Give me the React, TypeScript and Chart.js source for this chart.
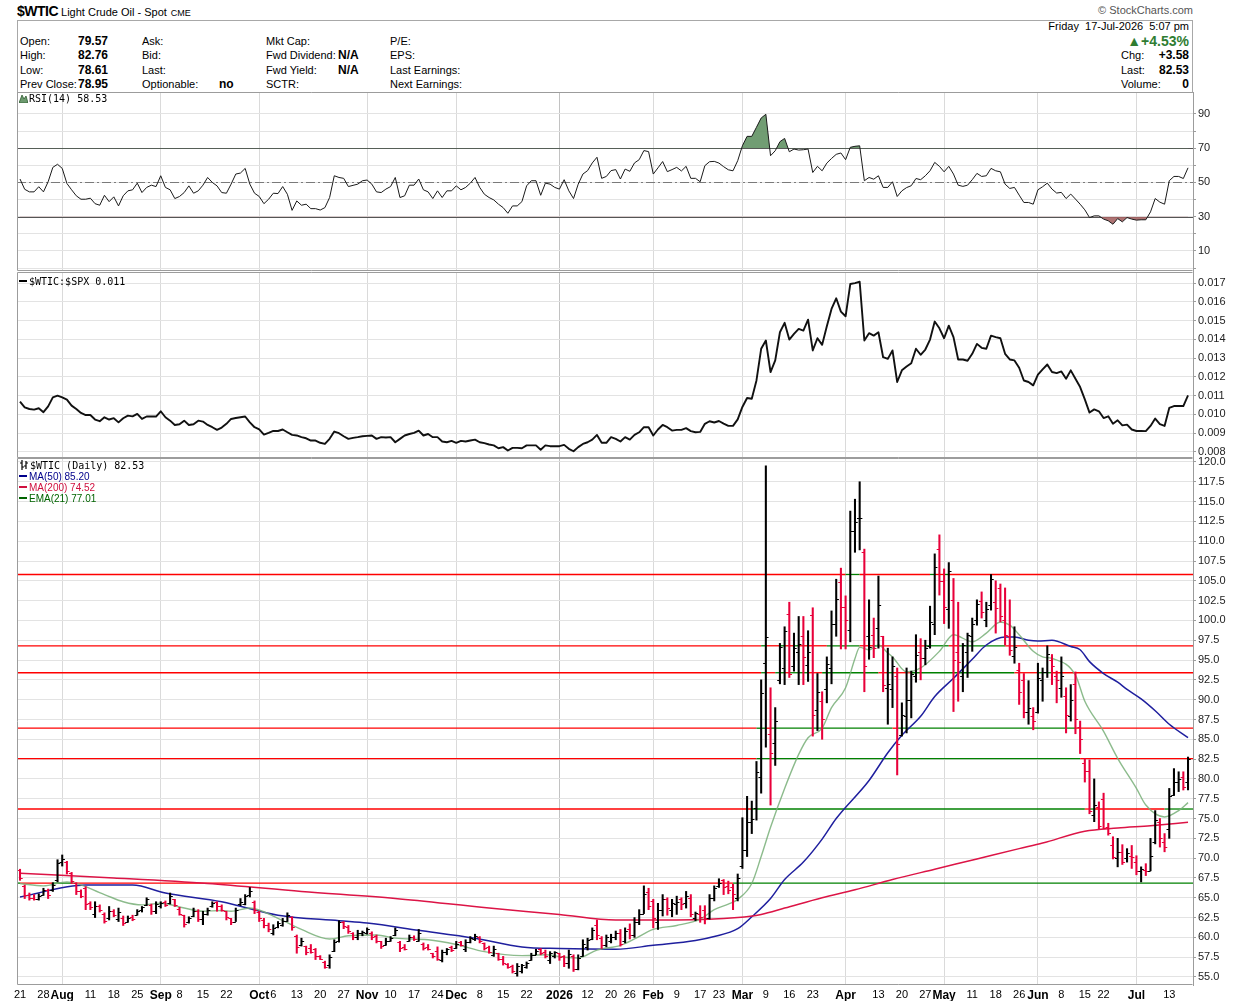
import React, { useEffect, useRef } from "react";
import { Chart, registerables } from "chart.js";

Chart.register(...registerables);

const SANS = '"Liberation Sans", Arial, Helvetica, sans-serif';
const MONO = '"DejaVu Sans Mono", monospace';
Chart.defaults.font.family = SANS;

// ---------- calendar ----------
const START = "2025-07-21";
const END = "2026-07-17";
const HOLIDAYS = [
  "2025-09-01", "2025-11-27", "2025-12-25", "2026-01-01", "2026-01-19",
  "2026-02-16", "2026-04-03", "2026-05-25", "2026-06-19", "2026-07-03",
];
const TICK_DATES = [
  "2025-07-21", "2025-07-28", "2025-08-01", "2025-08-11", "2025-08-18", "2025-08-25",
  "2025-09-02", "2025-09-08", "2025-09-15", "2025-09-22", "2025-10-01", "2025-10-06",
  "2025-10-13", "2025-10-20", "2025-10-27", "2025-11-03", "2025-11-10", "2025-11-17",
  "2025-11-24", "2025-12-01", "2025-12-08", "2025-12-15", "2025-12-22", "2026-01-02",
  "2026-01-12", "2026-01-20", "2026-01-26", "2026-02-02", "2026-02-09", "2026-02-17",
  "2026-02-23", "2026-03-02", "2026-03-09", "2026-03-16", "2026-03-23", "2026-04-01",
  "2026-04-13", "2026-04-20", "2026-04-27", "2026-05-01", "2026-05-11", "2026-05-18",
  "2026-05-26", "2026-06-01", "2026-06-08", "2026-06-15", "2026-06-22", "2026-07-01",
  "2026-07-13",
];
const MONTHS = ["Jan", "Feb", "Mar", "Apr", "May", "Jun", "Jul", "Aug", "Sep", "Oct", "Nov", "Dec"];

// ---------- price (OHLC) ----------
const OPEN = [
  68.5, 66.5, 65.4, 65.0, 64.8, 65.4, 66.0, 66.0, 67.2, 69.5,
  69.5, 68.1, 66.8, 65.8, 66.2, 64.3, 63.0, 64.0, 63.0, 62.4,
  63.3, 62.3, 62.5, 62.0, 62.6, 62.8, 63.4, 64.1, 64.1, 63.3,
  63.9, 64.5, 64.3, 64.8, 63.6, 62.8, 61.9, 62.7, 63.3, 62.3,
  62.9, 63.9, 64.5, 63.9, 63.3, 62.4, 62.0, 64.2, 64.2, 65.3,
  64.5, 63.2, 62.2, 61.6, 60.6, 61.3, 61.6, 62.1, 62.6, 60.2,
  59.0, 58.9, 58.6, 58.5, 57.6, 56.9, 56.5, 58.3, 59.5, 61.9,
  61.3, 60.6, 60.0, 60.5, 60.6, 60.6, 60.2, 59.5, 59.1, 59.6,
  60.3, 59.4, 58.8, 59.5, 60.1, 59.6, 59.2, 58.8, 58.0, 58.3,
  57.2, 58.1, 58.8, 58.6, 59.4, 58.5, 59.4, 59.8, 60.1, 59.3,
  58.8, 57.8, 58.0, 57.3, 56.7, 56.4, 55.5, 55.8, 56.3, 57.2,
  57.8, 58.5, 58.2, 57.2, 57.7, 58.0, 57.6, 56.8, 57.6, 56.0,
  57.6, 58.8, 59.8, 61.6, 59.9, 59.0, 59.6, 60.0, 60.5, 59.5,
  61.0, 60.3, 62.0, 63.0, 65.7, 64.6, 62.0, 63.5, 64.8, 63.4,
  64.2, 64.8, 64.3, 65.0, 62.5, 63.0, 63.5, 62.5, 65.0, 66.5,
  67.2, 66.5, 66.3, 65.0, 69.0, 71.0, 74.5, 76.3, 80.3, 94.6,
  85.7, 84.5, 92.5, 94.0, 100.8, 94.2, 96.0, 98.0, 94.4, 100.7,
  88.7, 89.8, 91.4, 94.0, 99.5, 104.9, 101.7, 98.8, 111.3, 112.9,
  108.6, 98.0, 98.2, 99.1, 98.0, 91.5, 91.3, 93.0, 85.6, 88.0,
  89.9, 93.0, 96.0, 95.2, 96.8, 99.5, 109.0, 105.0, 101.5, 102.6,
  96.0, 93.0, 96.0, 98.0, 100.0, 102.5, 100.0, 102.0, 102.3, 104.1,
  100.0, 98.0, 95.5, 93.8, 92.5, 88.5, 88.0, 88.5, 92.5, 93.5,
  95.0, 93.0, 91.5, 90.5, 88.0, 92.0, 86.5, 82.0, 81.0, 75.5,
  76.5, 77.5, 73.9, 71.6, 70.0, 70.8, 70.0, 70.3, 69.5, 68.4,
  68.5, 68.4, 72.0, 74.5, 72.0, 73.7, 78.0, 79.6, 80.2, 79.57,
];
const HIGH = [
  68.6, 66.6, 65.6, 65.4, 65.5, 66.2, 66.1, 66.9, 69.8, 70.4,
  69.6, 68.2, 66.9, 66.0, 66.4, 64.5, 64.5, 64.1, 63.1, 63.9,
  63.5, 63.7, 62.7, 62.7, 62.8, 63.5, 63.9, 65.0, 64.2, 64.5,
  64.5, 64.6, 65.6, 64.8, 63.8, 62.8, 62.6, 63.7, 63.5, 63.3,
  63.7, 64.5, 64.5, 64.1, 63.3, 62.4, 63.7, 64.9, 65.4, 66.3,
  64.6, 63.3, 62.4, 61.8, 61.6, 62.0, 62.4, 63.1, 62.6, 60.3,
  59.9, 58.9, 59.1, 58.6, 57.7, 57.0, 57.8, 59.7, 62.1, 62.0,
  61.5, 60.6, 60.9, 60.8, 61.2, 60.7, 60.3, 59.5, 59.9, 60.1,
  61.2, 59.5, 59.1, 60.3, 60.2, 61.0, 59.3, 59.1, 58.0, 58.8,
  58.4, 58.6, 58.9, 59.5, 59.5, 59.7, 60.1, 60.4, 60.1, 59.3,
  58.9, 58.9, 58.0, 57.6, 56.7, 56.5, 56.7, 56.6, 56.9, 58.0,
  58.5, 58.6, 58.4, 58.2, 58.2, 58.0, 57.7, 58.4, 57.8, 57.8,
  59.7, 59.9, 61.2, 62.2, 60.1, 60.3, 60.4, 60.8, 61.0, 61.2,
  61.7, 62.5, 63.5, 66.5, 66.2, 64.8, 64.3, 65.4, 65.0, 64.8,
  65.2, 65.0, 65.8, 65.4, 63.2, 64.0, 64.0, 65.4, 66.5, 67.4,
  67.3, 67.1, 66.7, 68.0, 75.1, 77.8, 77.2, 82.2, 92.5, 119.5,
  91.5, 89.0, 97.1, 99.2, 102.3, 98.4, 100.5, 100.5, 98.7, 101.6,
  93.3, 91.0, 95.4, 101.2, 105.2, 106.6, 103.1, 113.8, 115.3, 117.5,
  109.0, 102.6, 100.3, 105.6, 98.0, 96.5, 95.4, 94.0, 89.6, 94.0,
  93.6, 98.2, 97.7, 97.5, 101.8, 108.4, 110.8, 106.5, 107.3, 105.3,
  102.3, 97.1, 98.4, 100.3, 102.6, 103.6, 102.3, 105.8, 105.0, 104.6,
  104.1, 102.6, 99.2, 94.6, 93.3, 92.4, 89.0, 94.6, 94.0, 96.8,
  95.7, 93.6, 95.4, 91.5, 91.9, 93.5, 87.3, 82.6, 82.4, 80.0,
  77.1, 78.2, 74.4, 72.7, 72.5, 71.7, 71.2, 71.6, 70.3, 68.9,
  69.3, 72.5, 76.0, 75.0, 73.1, 78.8, 81.3, 80.9, 80.9, 82.76,
];
const LOW = [
  67.2, 64.9, 64.7, 64.7, 64.7, 65.3, 64.9, 65.8, 67.0, 69.0,
  68.0, 66.8, 65.4, 65.0, 63.5, 63.5, 62.5, 63.2, 61.8, 62.2,
  62.6, 62.0, 61.5, 61.9, 62.1, 62.8, 63.2, 64.0, 62.9, 63.0,
  63.7, 63.9, 64.2, 63.9, 62.8, 61.3, 61.8, 62.6, 62.0, 61.6,
  62.8, 63.8, 63.3, 63.3, 62.2, 61.6, 62.0, 64.0, 64.1, 65.1,
  63.0, 62.0, 61.2, 60.7, 60.3, 61.2, 61.4, 62.0, 60.9, 58.0,
  58.9, 57.8, 58.0, 57.2, 57.2, 56.1, 56.1, 58.2, 59.4, 61.1,
  60.5, 59.7, 59.7, 60.2, 60.4, 59.7, 59.3, 58.6, 59.0, 59.5,
  60.2, 58.2, 58.4, 59.5, 59.6, 59.5, 58.4, 58.4, 57.4, 57.1,
  56.9, 57.8, 58.2, 58.6, 58.9, 58.2, 59.3, 59.6, 59.3, 58.4,
  58.0, 57.6, 57.1, 56.5, 56.1, 55.5, 55.1, 55.5, 56.1, 57.1,
  57.8, 57.8, 57.4, 56.7, 57.4, 57.1, 56.3, 56.1, 55.7, 55.9,
  57.6, 58.4, 59.7, 59.7, 58.6, 58.8, 59.3, 59.7, 58.9, 59.3,
  59.8, 60.0, 61.6, 63.0, 63.5, 61.2, 61.0, 62.7, 62.8, 62.6,
  62.9, 63.5, 63.7, 62.6, 62.1, 61.9, 61.7, 62.3, 64.6, 66.3,
  65.4, 65.5, 63.5, 64.6, 68.7, 70.2, 73.1, 74.8, 78.2, 84.0,
  76.7, 81.7, 92.0, 91.9, 92.8, 93.6, 91.9, 91.9, 92.3, 85.4,
  86.1, 85.0, 89.6, 92.0, 98.0, 96.4, 96.4, 97.3, 108.6, 108.9,
  91.0, 95.1, 95.3, 96.5, 91.0, 86.9, 89.0, 80.5, 85.4, 85.8,
  87.7, 92.2, 92.5, 94.4, 96.5, 98.2, 103.2, 99.6, 99.0, 88.5,
  89.8, 91.0, 92.8, 96.1, 99.4, 100.3, 99.2, 101.3, 98.4, 99.8,
  96.9, 95.6, 94.6, 89.4, 87.7, 86.9, 86.2, 88.3, 89.8, 92.8,
  91.9, 89.6, 90.3, 85.8, 87.3, 85.7, 83.2, 79.6, 75.6, 74.6,
  73.7, 73.7, 72.9, 69.9, 68.9, 69.2, 69.5, 68.7, 67.9, 67.0,
  67.8, 68.4, 71.8, 71.4, 70.8, 72.5, 77.9, 78.4, 78.6, 78.61,
];
const CLOSE = [
  67.5, 65.3, 65.0, 64.8, 65.2, 66.0, 65.4, 66.6, 69.4, 69.9,
  68.4, 67.1, 65.8, 65.2, 64.2, 63.8, 64.0, 63.5, 62.1, 63.3,
  62.8, 63.2, 61.8, 62.5, 62.3, 63.3, 63.8, 64.8, 63.3, 64.2,
  64.4, 64.1, 65.2, 64.1, 63.0, 61.7, 62.4, 63.3, 62.3, 62.9,
  63.4, 64.3, 63.9, 63.5, 62.6, 61.9, 63.4, 64.5, 65.2, 65.9,
  63.4, 62.4, 61.6, 61.0, 61.2, 61.8, 62.1, 62.8, 61.3, 58.8,
  59.5, 58.2, 58.1, 57.6, 57.3, 56.3, 57.5, 59.4, 61.9, 61.4,
  60.8, 60.0, 60.6, 60.7, 61.0, 60.1, 59.6, 58.9, 59.6, 59.9,
  60.9, 58.6, 58.5, 60.0, 59.8, 60.6, 58.7, 58.5, 57.6, 57.3,
  58.2, 58.5, 58.4, 59.2, 59.0, 59.4, 59.9, 60.2, 59.5, 58.7,
  58.2, 58.5, 57.3, 56.8, 56.3, 55.8, 56.4, 56.5, 56.8, 57.8,
  58.3, 58.0, 57.7, 58.0, 58.1, 57.5, 56.8, 57.9, 56.0, 57.4,
  59.2, 59.7, 60.9, 60.3, 59.0, 60.0, 60.1, 60.6, 59.2, 60.8,
  60.3, 62.0, 63.0, 65.5, 64.0, 62.5, 63.5, 64.8, 63.7, 64.3,
  64.5, 64.2, 65.2, 63.0, 63.1, 62.6, 62.4, 65.0, 66.2, 66.8,
  66.3, 66.0, 65.5, 67.5, 71.0, 74.5, 74.9, 80.9, 90.8, 97.9,
  83.3, 87.3, 96.6, 98.7, 93.3, 96.5, 97.0, 95.4, 96.0, 88.1,
  91.0, 87.5, 94.5, 99.5, 102.7, 101.7, 100.0, 111.3, 112.4, 112.9,
  94.3, 96.7, 96.5, 101.9, 91.9, 92.0, 94.2, 84.4, 88.1, 89.9,
  93.3, 95.6, 95.2, 96.5, 99.8, 106.7, 105.0, 101.7, 106.3, 95.0,
  94.8, 96.9, 98.2, 99.5, 102.1, 101.1, 101.5, 105.2, 101.6, 100.5,
  98.2, 96.3, 96.6, 91.0, 88.5, 89.0, 87.3, 92.7, 93.5, 95.8,
  94.2, 92.5, 93.0, 88.1, 90.0, 87.5, 85.0, 81.0, 76.0, 76.7,
  74.0, 73.8, 73.2, 70.2, 70.8, 69.5, 70.7, 70.1, 68.4, 68.6,
  68.4, 70.3, 74.8, 72.5, 71.4, 77.9, 79.6, 80.0, 78.95, 82.53,
];

// ---------- indicators ----------
const RSI = [
  52, 46, 44.5, 44.5, 47.5, 44.5, 50.4, 58.8, 60.6, 58.2,
  49.4, 45.7, 42.2, 40.2, 40.2, 40.8, 37.6, 36.7, 42.5, 38.8,
  41.6, 36.3, 42.2, 45.1, 45.7, 49.6, 44.1, 47.1, 48.4, 47.6,
  53.9, 47.1, 45.7, 40.6, 41.8, 44.1, 48, 43.7, 45.1, 48.4,
  52.9, 50, 48, 44.1, 43.7, 49, 54.9, 55.5, 58.2, 49,
  43.7, 41.8, 37.6, 40.2, 43.7, 43.5, 47.6, 43.1, 33.7, 39.2,
  36.7, 37.3, 34.7, 34.7, 33.9, 35.3, 41.2, 53.9, 52.9, 52.4,
  47.6, 48.3, 49, 51, 51.4, 49, 44.5, 44.1, 46.1, 47.6,
  52.9, 41.2, 42.2, 48.4, 48.4, 52, 45.7, 44.5, 40.6, 45.1,
  41.2, 45.1, 45.1, 48, 45.7, 47.1, 49.6, 52.9, 47.1, 43.1,
  41.2, 39.8, 37.3, 35.3, 32, 36.3, 36.3, 38.8, 48, 51,
  51, 42.5, 49.6, 49, 47.1, 46.1, 51.6, 45.1, 40.6, 49,
  54.9, 56.9, 61.4, 64.7, 52.4, 53.5, 56.9, 57.5, 52, 57.8,
  56.5, 61.4, 63.3, 68.6, 68, 54.9, 58.5, 62.2, 56.3, 57.5,
  58.8, 56.7, 59.4, 52.4, 52.4, 50.4, 59.8, 62.1, 62.3, 61.3,
  59.2, 57.4, 56.8, 62.7, 71.4, 76.9, 76.9, 82.2, 87.6, 89.8,
  65.6, 68.5, 73.8, 75.7, 67.9, 69.5, 68.9, 69.1, 69.5, 55.8,
  59.4, 56.8, 61.3, 64, 66.4, 67.2, 63.3, 70.5, 71.1, 71.4,
  51, 52.9, 51.9, 53.9, 47.1, 47.1, 50.4, 41.8, 45.1, 47,
  48.1, 52.3, 51.6, 53.9, 56.8, 61.7, 59.4, 56.2, 59.4, 54.9,
  48.4, 47.7, 48.4, 51.6, 55.3, 53.5, 53.9, 58.2, 56.8, 56.2,
  49, 46.5, 47.1, 42.6, 38.3, 38.3, 37.3, 45.7, 47.5, 49.6,
  46.1, 43.8, 44.2, 40.6, 43.2, 40.3, 37.3, 34, 29.5, 30.5,
  30.5, 28.6, 27.6, 25.6, 28.9, 27, 29.5, 28.6, 28, 28.2,
  28.2, 32.8, 40.6, 38.5, 37.3, 51, 53.5, 53.5, 52.3, 58.53,
];
const RATIO = [
  0.01068, 0.01038, 0.01029, 0.01026, 0.01033, 0.01012, 0.01043, 0.01091, 0.0110, 0.01091,
  0.01079, 0.01047, 0.01029, 0.01008, 0.00997, 0.00997, 0.00973, 0.00964, 0.00985, 0.00973,
  0.0098, 0.00958, 0.0098, 0.00994, 0.0099, 0.01003, 0.00976, 0.00989, 0.00989, 0.00989,
  0.01017, 0.00985, 0.00967, 0.00944, 0.00948, 0.00967, 0.00944, 0.00948, 0.00967, 0.00962,
  0.00944, 0.00932, 0.00918, 0.0093, 0.0095, 0.00976, 0.00981, 0.00985, 0.00989, 0.00958,
  0.00932, 0.0092, 0.00893, 0.00902, 0.00912, 0.00912, 0.0092, 0.00905, 0.00891, 0.00888,
  0.00879, 0.00873, 0.00861, 0.00861, 0.00849, 0.00843, 0.0087, 0.00909, 0.009, 0.00884,
  0.0087, 0.00875, 0.00879, 0.00884, 0.00886, 0.00888, 0.0087, 0.00879, 0.00877, 0.00879,
  0.00852, 0.0087, 0.00888, 0.00896, 0.00902, 0.00914, 0.00888, 0.00896, 0.00879, 0.00879,
  0.00856, 0.00852, 0.00859, 0.00849, 0.00859, 0.00856, 0.00861, 0.00866, 0.00852, 0.00847,
  0.0084, 0.00835, 0.0082, 0.00826, 0.00808, 0.00822, 0.00822, 0.0082, 0.00835, 0.00835,
  0.00835, 0.00812, 0.00835, 0.00831, 0.00831, 0.00831, 0.00838, 0.00817, 0.00804, 0.00826,
  0.00843, 0.00852, 0.00866, 0.00891, 0.00849, 0.00849, 0.00879, 0.0087, 0.00856, 0.00879,
  0.00866, 0.00891, 0.00905, 0.00932, 0.00932, 0.00888, 0.0092, 0.00944, 0.00932, 0.00914,
  0.00918, 0.00918, 0.00927, 0.00911, 0.00905, 0.00907, 0.0095, 0.00964, 0.00957, 0.00965,
  0.00951, 0.00939, 0.00939, 0.00974, 0.0104, 0.01088, 0.01084, 0.01181, 0.0135, 0.01394,
  0.01226, 0.01288, 0.01438, 0.01488, 0.01399, 0.01429, 0.01456, 0.01447, 0.01505, 0.01341,
  0.01406, 0.01371, 0.0147, 0.01562, 0.01619, 0.01548, 0.01523, 0.01695, 0.017, 0.01707,
  0.01394, 0.01433, 0.0142, 0.01438, 0.01305, 0.01296, 0.01341, 0.01173, 0.01235, 0.01255,
  0.01273, 0.0135, 0.01318, 0.01346, 0.01399, 0.01495, 0.01459, 0.01406, 0.01473, 0.01412,
  0.01293, 0.01293, 0.01286, 0.01323, 0.01376, 0.01355, 0.0135, 0.0142, 0.01412, 0.01406,
  0.01323, 0.01293, 0.01288, 0.01249, 0.01181, 0.01173, 0.01155, 0.01212, 0.0124, 0.01266,
  0.01226, 0.0122, 0.01229, 0.0119, 0.01235, 0.0119, 0.01146, 0.0108, 0.0101, 0.01027,
  0.01017, 0.00981, 0.0099, 0.00951, 0.00969, 0.00942, 0.00946, 0.0092, 0.00912, 0.00912,
  0.00911, 0.00939, 0.00978, 0.00948, 0.00939, 0.01035, 0.01045, 0.01045, 0.01045, 0.01102,
];
// moving averages read at sample bars: [bar index, value]
const MA50: [number, number][] = [
  [0, 65.1], [14, 66.6], [24, 66.6], [31, 65.6], [43, 64.5], [55, 62.8], [68, 62.1], [74, 61.8],
  [85, 60.9], [97, 59.9], [107, 58.8], [115, 58.6], [127, 58.5], [135, 59.0], [144, 59.6],
  [148, 60.1], [153, 61.1], [156, 62.6], [160, 64.9], [163, 67.3], [167, 69.5], [171, 72.4],
  [174, 75.0], [181, 79.8], [185, 83.3], [188, 85.5], [192, 87.9], [195, 90.4], [199, 92.7],
  [203, 95.1], [206, 96.9], [210, 97.9], [212, 97.9], [215, 97.5], [217, 97.4], [220, 97.5],
  [224, 96.7], [226, 96.3], [228, 94.8], [231, 93.3], [234, 92.2], [236, 91.3], [239, 90.1],
  [242, 88.6], [245, 86.9], [249, 85.2],
];
const MA200: [number, number][] = [
  [0, 68.1], [20, 67.5], [40, 66.8], [60, 65.8], [80, 64.9], [100, 63.7], [115, 62.9],
  [127, 62.2], [140, 62.2], [153, 62.5], [158, 62.9], [163, 63.7], [171, 65.0], [178, 66.0],
  [186, 67.3], [195, 68.6], [204, 69.9], [213, 71.2], [218, 71.9], [227, 73.4], [234, 73.8],
  [241, 74.1], [249, 74.52],
];
const EMA21: [number, number][] = [
  [0, 66.8], [5, 66.5], [10, 67.0], [18, 65.4], [22, 64.5], [26, 64.1], [30, 64.3], [35, 63.7],
  [39, 63.3], [43, 63.4], [45, 63.3], [49, 63.7], [55, 62.4], [60, 61.0], [66, 59.8], [70, 60.2],
  [76, 60.3], [80, 59.9], [87, 59.7], [93, 59.1], [99, 58.2], [107, 57.7], [112, 57.8],
  [116, 57.5], [119, 57.4], [123, 58.4], [128, 59.0], [131, 59.8], [135, 61.0], [140, 61.5],
  [145, 62.3], [148, 63.5], [151, 64.2], [153, 64.8], [156, 66.8], [158, 70.2], [160, 73.9],
  [163, 78.8], [166, 83.1], [168, 85.2], [171, 86.4], [173, 89.0], [176, 91.5], [178, 95.2],
  [179, 96.6], [181, 96.3], [183, 96.9], [185, 95.9], [186, 95.4], [189, 93.5], [192, 94.0],
  [196, 96.1], [199, 98.2], [203, 97.3], [206, 98.4], [209, 99.8], [211, 99.4], [213, 98.2],
  [216, 96.1], [218, 95.4], [220, 95.2], [225, 93.1], [227, 89.8], [231, 86.0], [234, 82.6],
  [238, 78.8], [240, 76.7], [244, 75.2], [247, 76.0], [249, 77.01],
];
// horizontal price levels drawn on the price panel
const LEVELS = [105.8, 96.8, 93.4, 86.4, 82.55, 76.2, 66.85];

// ---------- derived helpers ----------
function buildDates(start: string, end: string, holidays: string[]): string[] {
  const hs = new Set(holidays);
  const out: string[] = [];
  const d = new Date(start + "T00:00:00Z");
  const e = new Date(end + "T00:00:00Z");
  while (d <= e) {
    const wd = d.getUTCDay();
    const iso = d.toISOString().slice(0, 10);
    if (wd !== 0 && wd !== 6 && !hs.has(iso)) out.push(iso);
    d.setUTCDate(d.getUTCDate() + 1);
  }
  return out;
}
const DATES = buildDates(START, END, HOLIDAYS);
const N = CLOSE.length;
const MONTH_IDX = new Set<number>();
DATES.forEach((d, i) => {
  if (i > 0 && d.slice(0, 7) !== DATES[i - 1].slice(0, 7)) MONTH_IDX.add(i);
});
const YEAR_IDX = DATES.findIndex((d) => d.startsWith("2026"));
const TICK_TEXT = new Map<number, string>();
const TICK_IDX: number[] = [];
TICK_DATES.forEach((d) => {
  const i = DATES.indexOf(d);
  if (i < 0) return;
  TICK_IDX.push(i);
  const m = parseInt(d.slice(5, 7), 10);
  if (MONTH_IDX.has(i)) TICK_TEXT.set(i, m === 1 ? d.slice(0, 4) : MONTHS[m - 1]);
  else TICK_TEXT.set(i, String(parseInt(d.slice(8, 10), 10)));
});
const X_MIN = -0.64;
const X_MAX = 250.06;
const RED = "#e8003a";
const BAR_COLORS = CLOSE.map((c, i) =>
  (i === 0 ? c < OPEN[0] : c < CLOSE[i - 1]) ? RED : "#000000"
);

const range = (a: number, b: number, s: number) => {
  const r: number[] = [];
  for (let v = a; v <= b + 1e-9; v += s) r.push(Math.round(v * 100000) / 100000);
  return r;
};

// ---------- plugins ----------
const framePlugin = {
  id: "frame",
  afterDraw(chart: any) {
    const { ctx, chartArea: a } = chart;
    ctx.save();
    ctx.strokeStyle = "#9c9c9c";
    ctx.lineWidth = 1;
    const l = Math.round(a.left) + 0.5;
    const t = Math.round(a.top) + 0.5;
    const r = Math.round(a.right) - 0.5;
    const b = Math.round(a.bottom) - 0.5;
    ctx.beginPath();
    ctx.moveTo(r, t);
    ctx.lineTo(l, t);
    ctx.lineTo(l, b);
    ctx.lineTo(r, b);
    ctx.stroke();
    ctx.restore();
  },
};

const RSI_LINES: [number, boolean][] = [[70, false], [50, true], [30, false]];
const rsiLinesPlugin = {
  id: "rsiLines",
  beforeDatasetsDraw(chart: any) {
    const { ctx, chartArea: a, scales } = chart;
    ctx.save();
    RSI_LINES.forEach(([v, dashed]) => {
      const py = Math.round(scales.y.getPixelForValue(v)) + 0.5;
      ctx.strokeStyle = dashed ? "#7a7a7a" : "#555555";
      ctx.lineWidth = dashed ? 1 : 1.2;
      ctx.setLineDash(dashed ? [9, 3, 2, 3] : []);
      ctx.beginPath();
      ctx.moveTo(a.left, py);
      ctx.lineTo(a.right, py);
      ctx.stroke();
    });
    ctx.restore();
  },
};

const ohlcTicksPlugin = {
  id: "ohlcTicks",
  afterDatasetsDraw(chart: any) {
    const { ctx, chartArea: a, scales } = chart;
    ctx.save();
    ctx.beginPath();
    ctx.rect(a.left, a.top, a.right - a.left, a.bottom - a.top);
    ctx.clip();
    ctx.lineWidth = 1.2;
    for (let i = 0; i < N; i++) {
      const x = scales.x.getPixelForValue(i);
      const yo = Math.round(scales.y.getPixelForValue(OPEN[i])) + 0.5;
      const yc = Math.round(scales.y.getPixelForValue(CLOSE[i])) + 0.5;
      ctx.strokeStyle = BAR_COLORS[i];
      ctx.beginPath();
      ctx.moveTo(x - 2.7, yo);
      ctx.lineTo(x, yo);
      ctx.moveTo(x, yc);
      ctx.lineTo(x + 2.7, yc);
      ctx.stroke();
    }
    ctx.restore();
  },
};

// ---------- scale builders ----------
function xScale(showLabels: boolean) {
  return {
    type: "linear",
    min: X_MIN,
    max: X_MAX,
    offset: false,
    afterBuildTicks: (axis: any) => {
      axis.ticks = TICK_IDX.map((v) => ({ value: v }));
    },
    afterFit: (axis: any) => {
      axis.height = showLabels ? 16 : 0;
      axis.paddingLeft = 0;
      axis.paddingRight = 0;
      axis.paddingTop = 0;
      axis.paddingBottom = 0;
    },
    grid: {
      offset: false,
      drawTicks: false,
      lineWidth: 1,
      color: (c: any) => {
        const v = c.tick ? c.tick.value : -1;
        if (v === YEAR_IDX) return "#c2c2c2";
        return MONTH_IDX.has(v) ? "#dadada" : "rgba(0,0,0,0)";
      },
    },
    border: { display: false },
    ticks: {
      display: showLabels,
      autoSkip: false,
      maxRotation: 0,
      minRotation: 0,
      padding: 3,
      color: "#000",
      font: (c: any) =>
        c.tick && MONTH_IDX.has(c.tick.value)
          ? { family: SANS, size: 12, weight: "bold" }
          : { family: SANS, size: 11 },
      callback: (v: any) => TICK_TEXT.get(v) ?? "",
    },
  };
}

function yScale(min: number, max: number, ticks: number[], fmt: (v: number) => string) {
  return {
    type: "linear",
    position: "right",
    min,
    max,
    beginAtZero: false,
    afterBuildTicks: (axis: any) => {
      axis.ticks = ticks.map((v) => ({ value: v }));
    },
    afterFit: (axis: any) => {
      axis.width = 47;
      axis.paddingTop = 0;
      axis.paddingBottom = 0;
      axis.paddingLeft = 0;
      axis.paddingRight = 0;
    },
    grid: { color: "#e3e3e3", lineWidth: 1, drawTicks: true, tickLength: 3, tickColor: "#9c9c9c" },
    border: { display: true, color: "#9c9c9c" },
    ticks: {
      padding: 2,
      color: "#222",
      font: { family: SANS, size: 11 },
      callback: (v: any) => fmt(Number(v)),
    },
  };
}

const baseOptions = (padTop: number, padBottom: number) => ({
  responsive: false,
  animation: false,
  devicePixelRatio: 1,
  events: [],
  layout: { padding: { top: padTop, bottom: padBottom, left: 17, right: 0 } },
  plugins: { legend: { display: false }, tooltip: { enabled: false } },
});

function rsiConfig(): any {
  const pts = RSI.map((v, i) => ({ x: i, y: v }));
  return {
    type: "line",
    data: {
      datasets: [
        {
          data: pts,
          borderColor: "#1a1a1a",
          borderWidth: 1,
          pointRadius: 0,
          fill: { target: { value: 70 }, above: "rgba(98,146,100,0.9)", below: "rgba(0,0,0,0)" },
        },
        {
          data: pts,
          borderWidth: 0,
          borderColor: "rgba(0,0,0,0)",
          pointRadius: 0,
          fill: { target: { value: 30 }, above: "rgba(0,0,0,0)", below: "rgba(165,100,100,0.9)" },
        },
      ],
    },
    options: {
      ...baseOptions(6, 1),
      scales: {
        x: xScale(false),
        y: yScale(-1.7, 102.8, range(0, 90, 10), (v) =>
          [10, 30, 50, 70, 90].includes(v) ? String(v) : ""
        ),
      },
    },
    plugins: [rsiLinesPlugin, framePlugin],
  };
}

function ratioConfig(): any {
  return {
    type: "line",
    data: {
      datasets: [
        {
          data: RATIO.map((v, i) => ({ x: i, y: v })),
          borderColor: "#111",
          borderWidth: 1.9,
          pointRadius: 0,
          borderJoinStyle: "round",
        },
      ],
    },
    options: {
      ...baseOptions(6, 4),
      scales: {
        x: xScale(false),
        y: yScale(0.00768, 0.01759, range(0.008, 0.017, 0.001), (v) => v.toFixed(3)),
      },
    },
    plugins: [framePlugin],
  };
}

function priceConfig(): any {
  const levelSets = LEVELS.map((lvl) => ({
    type: "line",
    order: 3,
    data: [{ x: X_MIN, y: lvl }, ...CLOSE.map((_, i) => ({ x: i, y: lvl })), { x: X_MAX, y: lvl }],
    borderWidth: 1.3,
    borderColor: "#ff0000",
    pointRadius: 0,
    segment: {
      borderColor: (c: any) => {
        const i = Math.min(N - 1, Math.max(0, Math.round(c.p1.parsed.x)));
        return CLOSE[i] > lvl ? "#008000" : "#ff0000";
      },
    },
  }));
  const maSet = (pairs: [number, number][], color: string, width: number) => ({
    type: "line",
    order: 2,
    data: pairs.map(([x, y]) => ({ x, y })),
    borderColor: color,
    borderWidth: width,
    pointRadius: 0,
    cubicInterpolationMode: "monotone",
  });
  return {
    type: "line",
    data: {
      datasets: [
        ...levelSets,
        maSet(EMA21, "rgba(120,175,120,0.85)", 1.4),
        maSet(MA200, "#dc1446", 1.5),
        maSet(MA50, "#1f1f9e", 1.5),
        {
          type: "bar",
          order: 0,
          data: CLOSE.map((_, i) => ({ x: i, y: [LOW[i], HIGH[i]] })),
          backgroundColor: BAR_COLORS,
          borderWidth: 0,
          barThickness: 1.4,
          grouped: false,
        },
      ],
    },
    options: {
      ...baseOptions(6, 0),
      scales: {
        x: xScale(true),
        y: yScale(53.99, 120.5, range(55, 120, 2.5), (v) => v.toFixed(1)),
      },
    },
    plugins: [ohlcTicksPlugin, framePlugin],
  };
}

// ---------- small UI helpers ----------
const Txt = ({ x, y, children, style }: any) => (
  <div
    style={{
      position: "absolute",
      left: x,
      top: y,
      lineHeight: "13px",
      fontSize: 11,
      whiteSpace: "pre",
      ...style,
    }}
  >
    {children}
  </div>
);
const RTxt = ({ r, y, children, style }: any) => (
  <div
    style={{
      position: "absolute",
      right: 1240 - r,
      top: y,
      lineHeight: "13px",
      fontSize: 11,
      whiteSpace: "pre",
      textAlign: "right",
      ...style,
    }}
  >
    {children}
  </div>
);
const Dash = ({ color }: { color: string }) => (
  <span
    style={{
      display: "inline-block",
      width: 8,
      height: 2,
      background: color,
      verticalAlign: "middle",
      marginRight: 2,
      position: "relative",
      top: -1,
    }}
  />
);

export default function App() {
  const rsiRef = useRef<HTMLCanvasElement>(null);
  const ratioRef = useRef<HTMLCanvasElement>(null);
  const priceRef = useRef<HTMLCanvasElement>(null);

  useEffect(() => {
    const charts: Chart[] = [];
    if (rsiRef.current) charts.push(new Chart(rsiRef.current, rsiConfig()));
    if (ratioRef.current) charts.push(new Chart(ratioRef.current, ratioConfig()));
    if (priceRef.current) charts.push(new Chart(priceRef.current, priceConfig()));
    return () => charts.forEach((c) => c.destroy());
  }, []);

  const bold = { fontWeight: "bold", fontSize: 12 };
  const rowY = [35, 49, 64, 78];

  return (
    <div
      style={{
        position: "absolute",
        left: 0,
        top: 0,
        width: 1240,
        height: 1001,
        background: "#fff",
        overflow: "hidden",
        fontFamily: SANS,
        color: "#000",
      }}
    >
      {/* title */}
      <div style={{ position: "absolute", left: 17, top: 2, whiteSpace: "nowrap", lineHeight: "17px" }}>
        <span style={{ fontWeight: "bold", fontSize: 14, letterSpacing: -0.5 }}>$WTIC</span>
        <span style={{ fontSize: 11, marginLeft: 3 }}>Light Crude Oil - Spot</span>
        <span style={{ fontSize: 9, marginLeft: 4 }}>CME</span>
      </div>
      <RTxt r={1193} y={4} style={{ color: "#555", fontSize: 11 }}>© StockCharts.com</RTxt>

      {/* header box */}
      <div
        style={{
          position: "absolute",
          left: 17,
          top: 20,
          width: 1176,
          height: 73,
          boxSizing: "border-box",
          borderTop: "1px solid #a8a8a8",
          borderLeft: "1px solid #a8a8a8",
          borderRight: "1px solid #a8a8a8",
        }}
      />
      <Txt x={20} y={rowY[0]}>Open:</Txt>
      <Txt x={20} y={rowY[1]}>High:</Txt>
      <Txt x={20} y={rowY[2]}>Low:</Txt>
      <Txt x={20} y={rowY[3]}>Prev Close:</Txt>
      <Txt x={78} y={rowY[0]} style={bold}>79.57</Txt>
      <Txt x={78} y={rowY[1]} style={bold}>82.76</Txt>
      <Txt x={78} y={rowY[2]} style={bold}>78.61</Txt>
      <Txt x={78} y={rowY[3]} style={bold}>78.95</Txt>

      <Txt x={142} y={rowY[0]}>Ask:</Txt>
      <Txt x={142} y={rowY[1]}>Bid:</Txt>
      <Txt x={142} y={rowY[2]}>Last:</Txt>
      <Txt x={142} y={rowY[3]}>Optionable:</Txt>
      <Txt x={219} y={rowY[3]} style={bold}>no</Txt>

      <Txt x={266} y={rowY[0]}>Mkt Cap:</Txt>
      <Txt x={266} y={rowY[1]}>Fwd Dividend:</Txt>
      <Txt x={266} y={rowY[2]}>Fwd Yield:</Txt>
      <Txt x={266} y={rowY[3]}>SCTR:</Txt>
      <Txt x={338} y={rowY[1]} style={bold}>N/A</Txt>
      <Txt x={338} y={rowY[2]} style={bold}>N/A</Txt>

      <Txt x={390} y={rowY[0]}>P/E:</Txt>
      <Txt x={390} y={rowY[1]}>EPS:</Txt>
      <Txt x={390} y={rowY[2]}>Last Earnings:</Txt>
      <Txt x={390} y={rowY[3]}>Next Earnings:</Txt>

      <RTxt r={1189} y={20}>{"Friday  17-Jul-2026  5:07 pm"}</RTxt>
      <RTxt r={1189} y={33} style={{ color: "#2f7d32", fontWeight: "bold", fontSize: 14, lineHeight: "16px" }}>
        ▲+4.53%
      </RTxt>
      <Txt x={1121} y={rowY[1]}>Chg:</Txt>
      <Txt x={1121} y={rowY[2]}>Last:</Txt>
      <Txt x={1121} y={rowY[3]}>Volume:</Txt>
      <RTxt r={1189} y={rowY[1]} style={bold}>+3.58</RTxt>
      <RTxt r={1189} y={rowY[2]} style={bold}>82.53</RTxt>
      <RTxt r={1189} y={rowY[3]} style={bold}>0</RTxt>

      {/* charts */}
      <canvas
        ref={rsiRef}
        width={1240}
        height={186}
        style={{ position: "absolute", left: 0, top: 86, width: 1240, height: 186 }}
      />
      <canvas
        ref={ratioRef}
        width={1240}
        height={196}
        style={{ position: "absolute", left: 0, top: 266, width: 1240, height: 196 }}
      />
      <canvas
        ref={priceRef}
        width={1240}
        height={549}
        style={{ position: "absolute", left: 0, top: 452, width: 1240, height: 549 }}
      />

      {/* panel legends */}
      <div style={{ position: "absolute", left: 19, top: 93, fontFamily: MONO, fontSize: 10, lineHeight: "12px", whiteSpace: "pre" }}>
        <svg width="9" height="9" style={{ verticalAlign: "middle", marginRight: 1, position: "relative", top: -1 }}>
          <polygon points="0,9 3,1 5,5 7,2 9,9" fill="#6d9a6f" stroke="#2d5a2f" strokeWidth="0.8" />
        </svg>
        RSI(14) 58.53
      </div>
      <div style={{ position: "absolute", left: 19, top: 276, fontFamily: MONO, fontSize: 10, lineHeight: "12px", whiteSpace: "pre" }}>
        <Dash color="#000" />
        {"$WTIC:$SPX 0.011"}
      </div>
      <div style={{ position: "absolute", left: 19, top: 460, fontFamily: MONO, fontSize: 10, lineHeight: "12px", whiteSpace: "pre" }}>
        <svg width="10" height="10" style={{ verticalAlign: "middle", marginRight: 1, position: "relative", top: -1 }}>
          <path d="M3 0 V10 M1 3 H3 M3 7 H5 M7 1 V9 M5 6 H7 M7 3 H9" stroke="#000" strokeWidth="1.2" fill="none" />
        </svg>
        {"$WTIC (Daily) 82.53"}
      </div>
      <div style={{ position: "absolute", left: 19, top: 471, fontSize: 10, lineHeight: "11px", color: "#00008b", whiteSpace: "pre" }}>
        <Dash color="#00008b" />
        MA(50) 85.20
      </div>
      <div style={{ position: "absolute", left: 19, top: 482, fontSize: 10, lineHeight: "11px", color: "#d0103f", whiteSpace: "pre" }}>
        <Dash color="#d0103f" />
        MA(200) 74.52
      </div>
      <div style={{ position: "absolute", left: 19, top: 493, fontSize: 10, lineHeight: "11px", color: "#006400", whiteSpace: "pre" }}>
        <Dash color="#006400" />
        EMA(21) 77.01
      </div>
    </div>
  );
}
